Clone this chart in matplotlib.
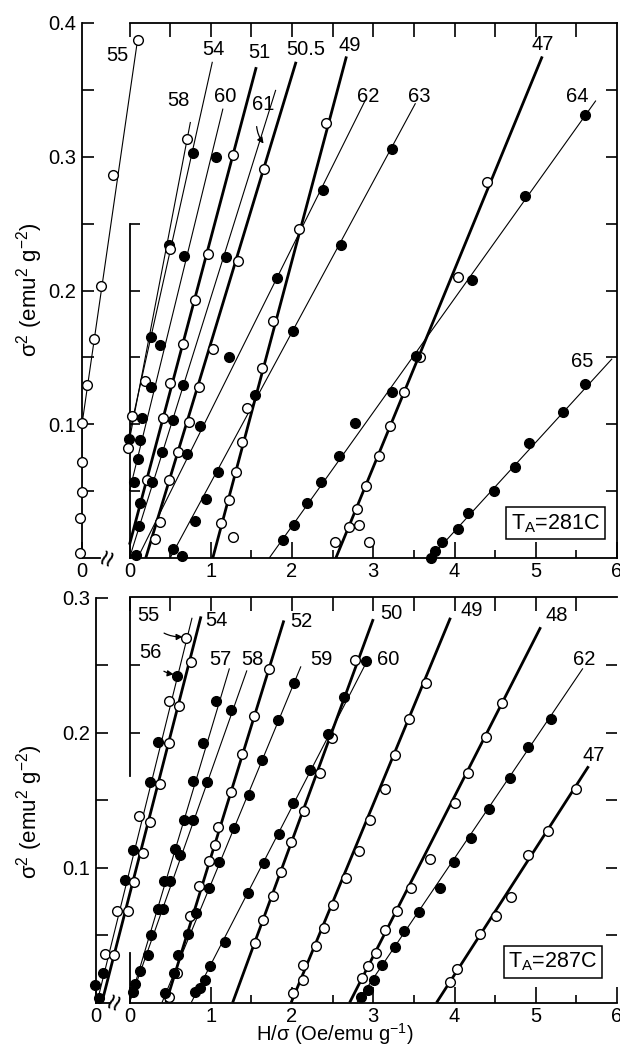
"""Arrott plots (sigma^2 vs H/sigma) for two anneal temperatures, T_A = 281C and 287C."""

import matplotlib

matplotlib.use("Agg")
import matplotlib.pyplot as plt

plt.rcParams["font.family"] = ["Liberation Sans", "DejaVu Sans"]
plt.rcParams["mathtext.fontset"] = "custom"
plt.rcParams["mathtext.rm"] = "Liberation Sans"
plt.rcParams["mathtext.default"] = "regular"

# ---------------------------------------------------------------------------
# Data, upper panel (T_A = 281C).  (H/sigma, sigma^2) pairs; *_FIT = drawn line
# Series 55 is read against the separate "0" axis left of the break.
# ---------------------------------------------------------------------------
A55 = [(-0.02, 0.004), (-0.03, 0.030), (0.0, 0.049), (-0.005, 0.072), (0.0, 0.101),
       (0.064, 0.129), (0.149, 0.164), (0.232, 0.203), (0.385, 0.286), (0.685, 0.387)]
A55_FIT = [(-0.01, 0.0), (0.0, 0.10), (0.69, 0.390)]
A54 = [(0.78, 0.303), (0.48, 0.234), (0.26, 0.165), (-0.01, 0.089)]
A54_FIT = [(1.02, 0.371), (-0.02, 0.088)]
A58 = [(0.71, 0.313), (0.50, 0.231), (0.19, 0.132), (0.03, 0.106), (-0.02, 0.082)]
A58_FIT = [(0.75, 0.326), (-0.03, 0.079)]
A60 = [(1.07, 0.300), (0.67, 0.226), (0.37, 0.159), (0.27, 0.128), (0.15, 0.105),
       (0.13, 0.088), (0.10, 0.074), (0.05, 0.057)]
A60_FIT = [(1.15, 0.336), (0.0, 0.05)]
A51 = [(1.27, 0.301), (0.96, 0.227), (0.81, 0.193), (0.66, 0.160), (0.50, 0.131),
       (0.41, 0.105), (0.21, 0.058)]
A51_FIT = [(1.56, 0.367), (0.0, 0.01)]
A61 = [(1.19, 0.225), (0.66, 0.129), (0.54, 0.103), (0.40, 0.079), (0.28, 0.057),
       (0.13, 0.041), (0.12, 0.024), (0.08, 0.002)]
A61_FIT = [(1.80, 0.350), (0.0, 0.0)]
A505 = [(1.65, 0.291), (1.33, 0.222), (1.03, 0.156), (0.86, 0.128), (0.73, 0.102),
        (0.60, 0.079), (0.49, 0.058), (0.38, 0.027), (0.31, 0.014)]
A505_FIT = [(2.05, 0.371), (0.20, 0.0)]
A49 = [(2.42, 0.325), (2.09, 0.246), (1.77, 0.177), (1.63, 0.142), (1.45, 0.112),
       (1.38, 0.087), (1.31, 0.064), (1.23, 0.043), (1.12, 0.026), (1.27, 0.016)]
A49_FIT = [(2.67, 0.375), (1.025, 0.0)]
A62 = [(2.38, 0.275), (1.81, 0.209), (1.23, 0.150), (0.87, 0.099), (0.71, 0.078)]
A62_FIT = [(2.90, 0.342), (0.10, 0.0)]
A63 = [(3.23, 0.306), (2.60, 0.234), (2.01, 0.170), (1.55, 0.122), (1.09, 0.064),
       (0.94, 0.044), (0.80, 0.028), (0.54, 0.0065), (0.65, 0.0015)]
A63_FIT = [(3.52, 0.340), (0.50, 0.0)]
A47 = [(4.40, 0.281), (4.04, 0.210), (3.57, 0.150), (3.38, 0.124), (3.21, 0.099),
       (3.07, 0.076), (2.91, 0.054), (2.80, 0.037), (2.70, 0.023), (2.83, 0.025),
       (2.53, 0.012), (2.95, 0.012)]
A47_FIT = [(5.08, 0.375), (2.54, 0.0)]
A64 = [(1.89, 0.0135), (2.03, 0.025), (2.19, 0.041), (2.36, 0.057), (2.58, 0.076),
       (2.77, 0.101), (3.23, 0.124), (3.52, 0.151), (4.21, 0.208), (4.87, 0.271),
       (5.60, 0.331)]
A64_FIT = [(5.74, 0.342), (1.72, 0.0)]
A65 = [(3.71, 0.0), (3.76, 0.005), (3.85, 0.012), (4.04, 0.022), (4.17, 0.034),
       (4.49, 0.050), (4.74, 0.068), (4.92, 0.086), (5.34, 0.109), (5.61, 0.130)]
A65_FIT = [(5.94, 0.149), (3.70, 0.0)]

# ---------------------------------------------------------------------------
# Data, lower panel (T_A = 287C)
# ---------------------------------------------------------------------------
B55 = [(0.70, 0.270), (0.48, 0.223), (0.12, 0.138), (-0.15, 0.068), (-0.30, 0.036)]
B55_FIT = [(0.77, 0.285), (-0.40, 0.0)]
B56 = [(0.59, 0.242), (0.35, 0.193), (0.25, 0.163), (0.04, 0.113), (-0.055, 0.091),
       (-0.33, 0.022), (-0.42, 0.013), (-0.38, 0.003)]
B54 = [(0.76, 0.252), (0.61, 0.220), (0.49, 0.192), (0.37, 0.162), (0.25, 0.134),
       (0.17, 0.111), (0.05, 0.089), (-0.02, 0.068), (-0.19, 0.035)]
B54_FIT = [(0.88, 0.286), (-0.34, 0.0)]
B57 = [(1.06, 0.223), (0.90, 0.192), (0.78, 0.164), (0.67, 0.135), (0.56, 0.114),
       (0.43, 0.090), (0.35, 0.069), (0.26, 0.050), (0.13, 0.023), (0.04, 0.008)]
B57_FIT = [(1.23, 0.2475), (0.0, 0.0)]
B58 = [(1.25, 0.217), (0.95, 0.163), (0.78, 0.135), (0.62, 0.109), (0.50, 0.090),
       (0.41, 0.069), (0.23, 0.035), (0.07, 0.014)]
B58_FIT = [(1.445, 0.246), (0.0, 0.0)]
B52 = [(1.72, 0.247), (1.53, 0.212), (1.38, 0.184), (1.25, 0.156), (1.09, 0.130),
       (1.05, 0.117), (0.98, 0.105), (0.85, 0.086), (0.75, 0.064), (0.58, 0.022),
       (0.48, 0.004)]
B52_FIT = [(1.90, 0.283), (0.45, 0.0)]
B59 = [(2.02, 0.237), (1.83, 0.209), (1.63, 0.180), (1.47, 0.154), (1.29, 0.129),
       (1.10, 0.104), (0.98, 0.085), (0.82, 0.066), (0.72, 0.051), (0.60, 0.035),
       (0.55, 0.022), (0.44, 0.007)]
B59_FIT = [(2.11, 0.249), (0.40, 0.0)]
B50 = [(2.77, 0.254), (2.49, 0.196), (2.34, 0.170), (2.15, 0.142), (1.99, 0.119),
       (1.86, 0.097), (1.76, 0.079), (1.64, 0.061), (1.54, 0.044)]
B50_FIT = [(3.00, 0.284), (1.27, 0.0)]
B60 = [(2.91, 0.253), (2.64, 0.226), (2.44, 0.199), (2.22, 0.172), (2.01, 0.148),
       (1.84, 0.125), (1.66, 0.103), (1.46, 0.081), (1.18, 0.045), (0.99, 0.027),
       (0.93, 0.017), (0.87, 0.011), (0.80, 0.008)]
B60_FIT = [(2.95, 0.256), (0.76, 0.0)]
B49 = [(3.65, 0.237), (3.44, 0.210), (3.27, 0.183), (3.15, 0.158), (2.96, 0.135),
       (2.82, 0.112), (2.67, 0.092), (2.51, 0.072), (2.39, 0.055), (2.29, 0.042),
       (2.13, 0.028), (2.13, 0.017), (2.01, 0.007)]
B49_FIT = [(3.95, 0.285), (1.99, 0.0)]
B48 = [(4.59, 0.222), (4.39, 0.197), (4.17, 0.170), (4.00, 0.148), (3.70, 0.106),
       (3.47, 0.085), (3.29, 0.068), (3.15, 0.054), (3.03, 0.037), (2.93, 0.027),
       (2.86, 0.018)]
B48_FIT = [(5.06, 0.278), (2.71, 0.0)]
B62 = [(5.19, 0.210), (4.90, 0.189), (4.68, 0.166), (4.42, 0.143), (4.20, 0.122),
       (3.99, 0.104), (3.82, 0.085), (3.56, 0.067), (3.38, 0.053), (3.27, 0.041),
       (3.11, 0.028), (3.01, 0.017), (2.93, 0.009), (2.85, 0.004)]
B62_FIT = [(5.58, 0.2475), (2.80, 0.0)]
B47 = [(5.49, 0.158), (5.15, 0.127), (4.91, 0.109), (4.70, 0.078), (4.51, 0.064),
       (4.31, 0.051), (4.03, 0.025), (3.94, 0.015)]
B47_FIT = [(5.65, 0.175), (3.78, 0.0)]

# label, points, fit line, marker fill, line weight
SERIES_281 = [
    ("55", A55, A55_FIT, "open", "thin"),
    ("54", A54, A54_FIT, "filled", "thin"),
    ("58", A58, A58_FIT, "open", "thin"),
    ("60", A60, A60_FIT, "filled", "thin"),
    ("51", A51, A51_FIT, "open", "thick"),
    ("61", A61, A61_FIT, "filled", "thin"),
    ("50.5", A505, A505_FIT, "open", "thick"),
    ("49", A49, A49_FIT, "open", "thick"),
    ("62", A62, A62_FIT, "filled", "thin"),
    ("63", A63, A63_FIT, "filled", "thin"),
    ("47", A47, A47_FIT, "open", "thick"),
    ("64", A64, A64_FIT, "filled", "thin"),
    ("65", A65, A65_FIT, "filled", "thin"),
]
SERIES_287 = [
    ("55", B55, B55_FIT, "open", "thin"),
    ("56", B56, None, "filled", "thin"),
    ("54", B54, B54_FIT, "open", "thick"),
    ("57", B57, B57_FIT, "filled", "thin"),
    ("58", B58, B58_FIT, "filled", "thin"),
    ("52", B52, B52_FIT, "open", "thick"),
    ("59", B59, B59_FIT, "filled", "thin"),
    ("50", B50, B50_FIT, "open", "thick"),
    ("60", B60, B60_FIT, "filled", "thin"),
    ("49", B49, B49_FIT, "open", "thick"),
    ("48", B48, B48_FIT, "open", "thick"),
    ("62", B62, B62_FIT, "filled", "thin"),
    ("47", B47, B47_FIT, "open", "thick"),
]

# label text positions (data coords) and arrow tips
LABELS_281 = {"55": (-0.15, 0.376), "54": (1.03, 0.380), "58": (0.60, 0.342),
              "60": (1.18, 0.345), "51": (1.60, 0.378), "61": (1.64, 0.339),
              "50.5": (2.17, 0.380), "49": (2.71, 0.383), "62": (2.94, 0.345),
              "63": (3.56, 0.345), "47": (5.08, 0.384), "64": (5.51, 0.345),
              "65": (5.57, 0.147)}
ARROWS_281 = {"61": (1.66, 0.309)}
LABELS_287 = {"55": (0.23, 0.287), "54": (1.07, 0.283), "56": (0.26, 0.259),
              "57": (1.12, 0.254), "58": (1.51, 0.254), "52": (2.12, 0.282),
              "59": (2.36, 0.254), "50": (3.22, 0.288), "60": (3.19, 0.254),
              "49": (4.21, 0.290), "48": (5.26, 0.287), "62": (5.59, 0.254),
              "47": (5.71, 0.183)}
ARROWS_287 = {"55": (0.67, 0.271), "56": (0.56, 0.243)}

# ---------------------------------------------------------------------------
# Layout (pixels of the 620 x 1049 figure)
# ---------------------------------------------------------------------------
FIG_W, FIG_H, DPI = 620, 1049, 100
ZERO_PX = 129.5      # pixel column of H/sigma = 0 on the main scale
PX_PER_UNIT = 81.25
XMAX = 6.0
LW_SPINE = 1.3
FS_TICK = 14.5
FS_NAME = 14.5
FS_AXIS = 15.5


def make_axes(fig, left_px, top_px, bottom_px):
    right_px = ZERO_PX + XMAX * PX_PER_UNIT
    ax = fig.add_axes([left_px / FIG_W, 1 - bottom_px / FIG_H,
                       (right_px - left_px) / FIG_W, (bottom_px - top_px) / FIG_H])
    xl = -(ZERO_PX - left_px) / PX_PER_UNIT
    ax.set_xlim(xl, XMAX)
    return ax, xl


def style_frame(ax, xl, ymax, yticks, inner_spans, inner_ticks, right_ticks,
                right_spine, seg_end, break_x):
    for side in ("top", "right"):
        ax.spines[side].set_visible(False)
    ax.spines["left"].set_linewidth(LW_SPINE)
    ax.spines["bottom"].set_linewidth(LW_SPINE)
    ax.spines["bottom"].set_bounds(0, XMAX)
    ax.set_ylim(0, ymax)

    # bottom: "0" of the broken axis plus the main 0..6 scale
    ax.set_xticks([xl, 0, 1, 2, 3, 4, 5, 6], ["0", "0", "1", "2", "3", "4", "5", "6"])
    ax.set_xticks([0.5, 1.5, 2.5, 3.5, 4.5, 5.5], minor=True)
    ax.tick_params(axis="x", which="major", direction="in", length=11.5, width=1.2,
                   labelsize=FS_TICK, pad=3, top=False)
    ax.tick_params(axis="x", which="minor", direction="in", length=6, width=1.2, top=False)

    ax.set_yticks(yticks, [f"{v:.1f}" for v in yticks])
    minor_y = [v + 0.05 for v in [0.0] + yticks[:-1]]
    ax.set_yticks(minor_y, minor=True)
    ax.tick_params(axis="y", which="both", direction="in", length=8.5, width=1.2,
                   labelsize=FS_TICK, pad=4, right=False)

    # short piece of the bottom axis left of the break
    seg = ax.secondary_xaxis("bottom")
    seg.set_xticks([])
    seg.spines["bottom"].set_bounds(xl, seg_end)
    seg.spines["bottom"].set_linewidth(LW_SPINE)
    ax.text(break_x, 0, "\u2248", rotation=70, ha="center", va="center",
            fontsize=21, clip_on=False)

    # top frame from 0 to 6 with inward ticks every 0.5
    top = ax.secondary_xaxis("top")
    top.set_xticks([0.5 * i for i in range(12)])
    top.tick_params(direction="in", length=10, width=1.2, labeltop=False)
    top.spines["top"].set_bounds(0, XMAX)
    top.spines["top"].set_linewidth(LW_SPINE)

    # right side ticks (with or without a drawn spine)
    right = ax.secondary_yaxis("right")
    right.set_yticks(right_ticks)
    right.tick_params(direction="in", length=8, width=1.2, labelright=False)
    right.spines["right"].set_visible(right_spine)
    right.spines["right"].set_linewidth(LW_SPINE)

    # left spine of the main scale at H/sigma = 0, drawn only in parts
    loc = (0 - xl) / (XMAX - xl)
    for (lo, hi), ticks in zip(inner_spans, inner_ticks):
        inner = ax.secondary_yaxis(loc)
        inner.spines["left"].set_visible(True)
        inner.spines["right"].set_visible(False)
        inner.spines["left"].set_bounds(lo, hi)
        inner.spines["left"].set_linewidth(LW_SPINE)
        inner.set_yticks(ticks)
        inner.tick_params(direction="in", length=7, width=1.2,
                          labelleft=False, labelright=False)


def draw_series(ax, series, labels, arrows, x_shift):
    for name, pts, fit, fill, weight in series:
        dx = x_shift.get(name, 0.0)
        if fit is not None:
            ax.plot([p[0] + dx for p in fit], [p[1] for p in fit], color="black",
                    lw=2.0 if weight == "thick" else 0.8, zorder=2,
                    solid_capstyle="butt")
        ax.plot([p[0] + dx for p in pts], [p[1] for p in pts], "o", ms=7.0,
                mfc="black" if fill == "filled" else "white", mec="black",
                mew=1.0, zorder=3, clip_on=False)
        lx, ly = labels[name]
        if name in arrows:
            ax.annotate(name, xy=arrows[name], xytext=(lx, ly), fontsize=FS_NAME,
                        ha="center", va="center",
                        arrowprops=dict(arrowstyle="-|>", lw=0.9, color="black",
                                        mutation_scale=9, shrinkA=7, shrinkB=1,
                                        connectionstyle="arc3,rad=0.35"))
        else:
            ax.text(lx, ly, name, fontsize=FS_NAME, ha="center", va="center")


fig = plt.figure(figsize=(FIG_W / DPI, FIG_H / DPI), dpi=DPI)

# ---- upper panel ---------------------------------------------------------
ax1, xl1 = make_axes(fig, 82, 23, 558)
style_frame(ax1, xl1, 0.4, [0.1, 0.2, 0.3, 0.4],
            inner_spans=[(0.0, 0.25)], inner_ticks=[[0.05, 0.1, 0.15, 0.2, 0.25]],
            right_ticks=[0.05, 0.1, 0.15, 0.2, 0.25, 0.3, 0.35], right_spine=True,
            seg_end=-0.36, break_x=-0.245)
draw_series(ax1, SERIES_281, LABELS_281, ARROWS_281, {"55": xl1})
ax1.text(5.24, 0.026, "T$_A$=281C", fontsize=15.5, ha="center", va="center",
         bbox=dict(boxstyle="square,pad=0.22", fc="white", ec="black", lw=1.1))

# ---- lower panel ---------------------------------------------------------
ax2, xl2 = make_axes(fig, 96, 597.5, 1002.5)
style_frame(ax2, xl2, 0.3, [0.1, 0.2, 0.3],
            inner_spans=[(0.168, 0.3), (0.0, 0.037)], inner_ticks=[[0.2, 0.25], []],
            right_ticks=[0.05, 0.1, 0.15, 0.2, 0.25], right_spine=False,
            seg_end=-0.24, break_x=-0.165)
draw_series(ax2, SERIES_287, LABELS_287, ARROWS_287, {})
ax2.text(5.21, 0.030, "T$_A$=287C", fontsize=15.5, ha="center", va="center",
         bbox=dict(boxstyle="square,pad=0.22", fc="white", ec="black", lw=1.1))

ylab = "\u03c3$^2$ (emu$^2$ g$^{-2}$)"
fig.text(30 / FIG_W, 1 - 290 / FIG_H, ylab, rotation=90, fontsize=FS_AXIS + 0.5,
         ha="center", va="center")
fig.text(30 / FIG_W, 1 - 812 / FIG_H, ylab, rotation=90, fontsize=FS_AXIS + 0.5,
         ha="center", va="center")
fig.text(335 / FIG_W, 2 / FIG_H, "H/\u03c3 (Oe/emu g$^{-1}$)", fontsize=14.5,
         ha="center", va="bottom")

fig.savefig("out.png", dpi=DPI)
